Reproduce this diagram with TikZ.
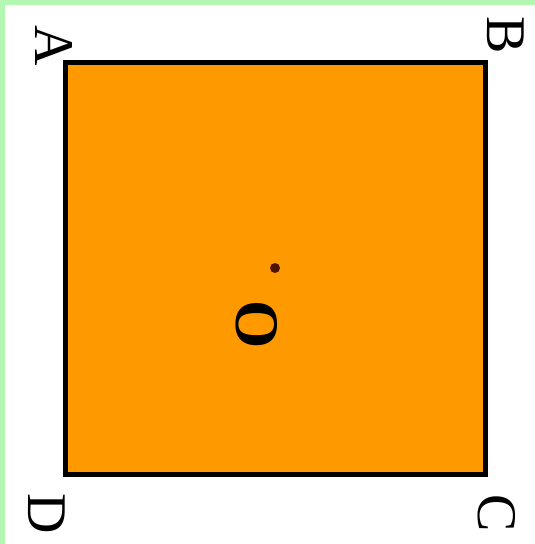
\documentclass[tikz,border=0pt]{standalone}
\usepackage{fontspec}
\setmainfont{Liberation Serif}
\definecolor{sqfill}{HTML}{FF9900}
\definecolor{framegreen}{HTML}{B3F7B3}
\definecolor{dotclr}{HTML}{4A1500}
\tikzset{
  square/.style = {draw=black, line width=5pt, fill=sqfill},
  vlabel/.style = {font=\fontsize{56}{56}\selectfont, rotate=-90, inner sep=0pt},
  centre/.style = {circle, fill=dotclr, inner sep=0pt, minimum size=10pt},
}
\begin{document}
\begin{tikzpicture}[x=1pt,y=-1pt]
\useasboundingbox (0,0) rectangle (535,544);
\fill[white] (0,0) rectangle (535,544);
\fill[framegreen] (0,0) rectangle (535,5);
\fill[framegreen] (0,0) rectangle (5,544);

%% --- square ----------------------------------------------------------
\coordinate (tl) at (65,62);
\coordinate (br) at (485,474);
\draw[square] (tl) rectangle (br);

%% --- centre and labels -----------------------------------------------
\node[centre] (dot) at (275,268) {};
\node[vlabel, font=\fontsize{62}{62}\selectfont\bfseries] (O) at (257,325) {O};
\node[vlabel] (A) at (54,46) {A};
\node[vlabel] (B) at (506,35) {B};
\node[vlabel] (C) at (497,513) {C};
\node[vlabel] (D) at (47,514) {D};
\end{tikzpicture}
\end{document}
